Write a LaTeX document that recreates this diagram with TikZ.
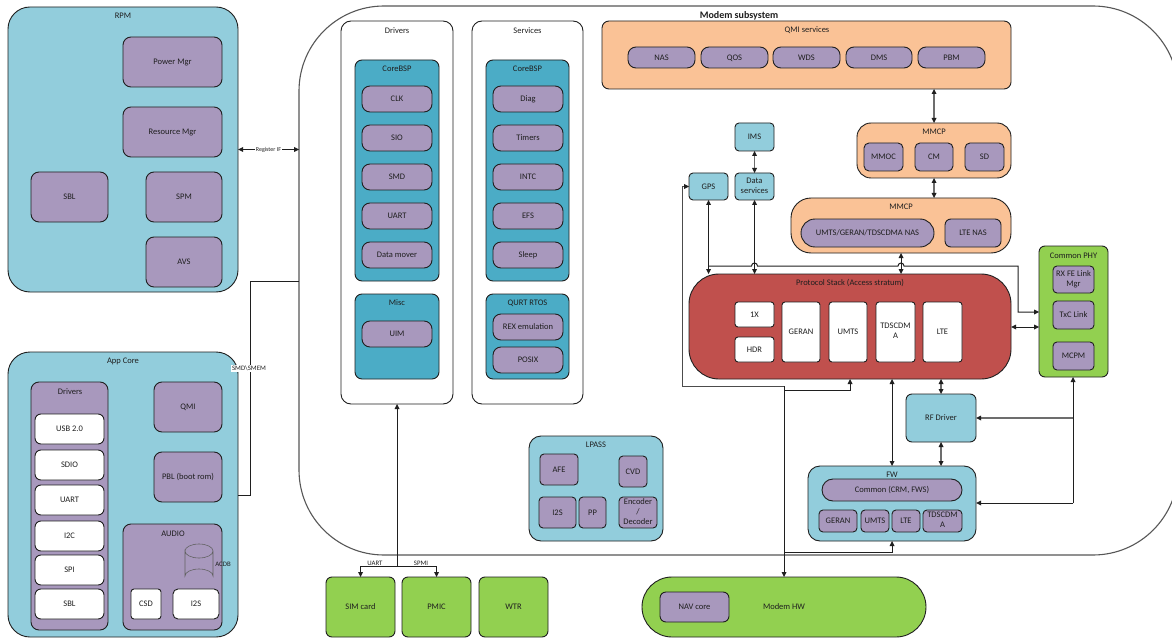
\documentclass[tikz,border=0pt]{standalone}
\usepackage{fontspec}
\setmainfont{Carlito}
\usetikzlibrary{arrows.meta}
\definecolor{teal}{HTML}{92CDDC}
\definecolor{dteal}{HTML}{4BACC6}
\definecolor{purp}{HTML}{A898BD}
\definecolor{orng}{HTML}{FAC296}
\definecolor{redb}{HTML}{C0504D}
\definecolor{gren}{HTML}{92D050}
\definecolor{ink}{HTML}{1F1F1F}
\newcommand\capstrut{\rule[-2.1pt]{0pt}{9.6pt}}
\tikzset{
  base/.style={draw=ink,line width=0.9pt,inner sep=0pt,outer sep=0pt,align=center,text=ink,font=\fontsize{8.5}{10}\selectfont,rounded corners=#1,execute at begin node=\capstrut,execute at end node=\capstrut},
  base/.default=8pt,
  ltbox/.style={base=#1,fill=teal}, ltbox/.default=8pt,
  dtbox/.style={base=#1,fill=dteal}, dtbox/.default=8pt,
  pubox/.style={base=#1,fill=purp}, pubox/.default=8pt,
  orbox/.style={base=#1,fill=orng}, orbox/.default=8pt,
  rdbox/.style={base=#1,fill=redb}, rdbox/.default=8pt,
  grbox/.style={base=#1,fill=gren}, grbox/.default=8pt,
  whbox/.style={base=#1,fill=white}, whbox/.default=8pt,
  ttl/.style={inner sep=0pt,outer sep=0pt,text=ink,font=\fontsize{8.5}{10}\selectfont,execute at begin node=\capstrut},
  small/.style={inner sep=0.6pt,outer sep=0pt,text=ink,fill=white,font=\fontsize{6.8}{8}\selectfont},
  con/.style={draw=ink,line width=1pt},
  heavy/.style={line width=1.25pt},
  grayline/.style={draw=ink!65,line width=1.3pt},
  both/.style={con,{Triangle[length=5pt,width=5pt,color=ink,line width=0pt]}-{Triangle[length=5pt,width=5pt,color=ink,line width=0pt]}},
  one/.style={con,-{Triangle[length=5pt,width=5pt,color=ink,line width=0pt]}}
}
\newcommand\mybox[7][]{\node[#2,minimum width={(#6-#4)*1pt},minimum height={(#7-#5)*1pt},#1] (#3) at ({(#4+#6)/2},{(#5+#7)/2})}
\newcommand\mytitle[4][]{\node[ttl,#1] (#2) at (#3,#4)}
\begin{document}
\begin{tikzpicture}[x=1pt,y=-1pt]
\useasboundingbox (0,0) rectangle (1172,639);
\clip (0,0) rectangle (1172,639);
\fill[white] (0,0) rectangle (1172,639);

% Modem subsystem
\mybox[draw=ink!75,line width=1.1pt]{whbox=85pt}{modem}{299}{6}{1178}{555}{};
\mytitle[font=\fontsize{10}{12}\selectfont\bfseries]{modemT}{739}{15.5}{Modem subsystem};

% RPM
\mybox{ltbox=22pt}{rpm}{8}{7}{238}{292}{};
\mytitle{rpmT}{123}{16}{RPM};
\mybox{pubox}{power}{123}{37}{222}{87}{Power Mgr};
\mybox{pubox}{resource}{123}{107}{222}{157}{Resource Mgr};
\mybox{pubox}{rsbl}{31}{172}{108}{222}{SBL};
\mybox{pubox}{spm}{146}{172}{222}{222}{SPM};
\mybox{pubox}{avs}{146}{237}{222}{287}{AVS};

% App core
\mybox{ltbox=22pt}{app}{8}{352}{238}{637}{};
\mytitle{appT}{123}{360.5}{App Core};
\mybox{pubox}{adrv}{31}{382}{108}{630}{};
\mytitle{adrvT}{70}{391.5}{Drivers};
\mybox{whbox=6pt}{usb}{35}{414}{104}{444}{USB 2.0};
\mybox{whbox=6pt}{sdio}{35}{450}{104}{480}{SDIO};
\mybox{whbox=6pt}{auart}{35}{485}{104}{515}{UART};
\mybox{whbox=6pt}{itwoc}{35}{521}{104}{551}{I2C};
\mybox{whbox=6pt}{spi}{35}{555}{104}{585}{SPI};
\mybox{whbox=6pt}{asbl}{35}{589}{104}{619}{SBL};
\mybox{pubox}{qmi}{154}{382}{222}{432}{QMI};
\mybox{pubox}{pbl}{154}{452}{222}{502}{PBL (boot rom)};
\mybox{pubox}{audio}{123}{524}{222}{630}{};
\mytitle{audioT}{173}{533.5}{AUDIO};
\draw[draw=ink!70,line width=0.6pt] (185,551) arc[start angle=180,end angle=540,x radius=14,y radius=7] -- (185,576) arc[start angle=180,end angle=0,x radius=14,y radius=-7] -- (213,551);
\mytitle[font=\fontsize{6.8}{8}\selectfont]{acdb}{223}{564}{ACDB};
\mybox{whbox=3pt}{csd}{131}{589}{161}{619}{CSD};
\mybox{whbox=5pt}{aitwos}{173}{589}{219}{619}{I2S};

% Drivers column
\mybox{whbox=10pt}{drivers}{341}{21}{453}{404}{};
\mytitle{driversT}{397}{30.5}{Drivers};
\mybox{dtbox=7pt}{core1}{355}{60}{439}{281}{};
\mytitle{core1T}{397}{68.5}{CoreBSP};
\mybox{pubox}{clk}{362}{86}{432}{112}{CLK};
\mybox{pubox}{sio}{362}{125}{432}{151}{SIO};
\mybox{pubox}{smd}{362}{164}{432}{190}{SMD};
\mybox{pubox}{duart}{362}{203}{432}{229}{UART};
\mybox{pubox}{dmover}{362}{242}{432}{268}{Data mover};
\mybox{dtbox=7pt}{misc}{355}{294}{439}{379}{};
\mytitle{miscT}{397}{303}{Misc};
\mybox{pubox}{uim}{362}{321}{432}{347}{UIM};

% Services column
\mybox{whbox=10pt}{services}{472}{21}{583}{404}{};
\mytitle{servicesT}{527.5}{30.5}{Services};
\mybox{dtbox=7pt}{core2}{486}{60}{569}{281}{};
\mytitle{core2T}{527.5}{68.5}{CoreBSP};
\mybox{pubox}{diag}{493}{86}{563}{112}{Diag};
\mybox{pubox}{timers}{493}{125}{563}{151}{Timers};
\mybox{pubox}{intc}{493}{164}{563}{190}{INTC};
\mybox{pubox}{efs}{493}{203}{563}{229}{EFS};
\mybox{pubox}{sleep}{493}{242}{563}{268}{Sleep};
\mybox{dtbox=7pt}{qurt}{486}{294}{569}{379}{};
\mytitle{qurtT}{527.5}{303}{QURT RTOS};
\mybox{pubox}{rex}{493}{314}{563}{340}{REX emulation};
\mybox{pubox}{posix}{493}{347}{563}{373}{POSIX};

% QMI services
\mybox{orbox=7pt}{qmis}{602}{21}{1011}{89}{};
\mytitle{qmisT}{807}{30}{QMI services};
\mybox{pubox}{nas}{628}{47}{695}{68}{NAS};
\mybox{pubox}{qos}{701}{47}{768}{68}{QOS};
\mybox{pubox}{wds}{773}{47}{840}{68}{WDS};
\mybox{pubox}{dms}{846}{47}{912}{68}{DMS};
\mybox{pubox}{pbm}{918}{47}{985}{68}{PBM};

% MMCP upper
\mybox{orbox=14pt}{mmcpa}{857}{123}{1011}{178}{};
\mytitle{mmcpaT}{934}{132}{MMCP};
\mybox{pubox=5pt}{mmoc}{864}{143}{903}{171}{MMOC};
\mybox{pubox=5pt}{cm}{915}{143}{953}{171}{CM};
\mybox{pubox=5pt}{sd}{965}{143}{1004}{171}{SD};

% MMCP lower
\mybox{orbox=20pt}{mmcpb}{791}{198}{1011}{253}{};
\mytitle{mmcpbT}{901}{207}{MMCP};
\mybox{pubox=14pt}{umtsnas}{801}{219}{934}{247}{UMTS/GERAN/TDSCDMA NAS};
\mybox{pubox=6pt}{ltenas}{945}{219}{1001}{247}{LTE NAS};

% IMS, data, GPS
\mybox{ltbox=4pt}{ims}{735}{123}{774}{151}{IMS};
\mybox{ltbox=4pt}{data}{735}{173}{774}{200}{Data\\services};
\mybox{ltbox=4pt}{gps}{689}{173}{728}{200}{GPS};

% Protocol stack
\mybox{rdbox=30pt}{proto}{689}{274}{1011}{379}{};
\mytitle{protoT}{850}{282.5}{Protocol Stack (Access stratum)};
\mybox{whbox=3pt}{onex}{735}{302}{774}{327}{1X};
\mybox{whbox=3pt}{hdr}{735}{337}{774}{362}{HDR};
\mybox{whbox=3pt}{geran}{782}{302}{820}{362}{GERAN};
\mybox{whbox=3pt}{umts}{829}{302}{867}{362}{UMTS};
\mybox{whbox=3pt}{tds}{876}{302}{915}{362}{TDSCDM\\A};
\mybox{whbox=3pt}{lte}{923}{302}{962}{362}{LTE};

% Common PHY
\mybox{grbox=6pt}{phy}{1039}{246}{1108}{377}{};
\mytitle{phyT}{1073.5}{255.5}{Common PHY};
\mybox{pubox=4pt}{rxfe}{1053}{266}{1094}{293}{RX FE Link\\Mgr};
\mybox{pubox=4pt}{txc}{1053}{301}{1094}{329}{TxC Link};
\mybox{pubox=4pt}{mcpm}{1053}{342}{1094}{370}{MCPM};

% RF driver
\mybox{ltbox=6pt}{rf}{906}{394}{976}{442}{RF Driver};

% FW
\mybox{ltbox=12pt}{fw}{808}{466}{976}{541}{};
\mytitle{fwT}{892}{474.5}{FW};
\mybox{pubox=11pt}{common}{822}{479}{962}{501}{Common (CRM, FWS)};
\mybox{pubox=4pt}{fgeran}{819}{510}{857}{532}{GERAN};
\mybox{pubox=4pt}{fumts}{861}{510}{889}{532}{UMTS};
\mybox{pubox=4pt}{flte}{892}{510}{920}{532}{LTE};
\mybox{pubox=4pt}{ftds}{923}{510}{962}{532}{TDSCDM\\A};

% LPASS
\mybox{ltbox=12pt}{lpass}{529}{436}{663}{541}{};
\mytitle{lpassT}{596}{445}{LPASS};
\mybox{pubox=4pt}{afe}{540}{454}{578}{485}{AFE};
\mybox{pubox=4pt}{cvd}{619}{456}{647}{487}{CVD};
\mybox{pubox=4pt}{litwos}{539}{497}{576}{528}{I2S};
\mybox{pubox=4pt}{pp}{579}{497}{606}{528}{PP};
\mybox{pubox=4pt}{enc}{619}{497}{657}{528}{Encoder\\/\\Decoder};

% Bottom row
\mybox{grbox=6pt}{sim}{326}{577}{395}{637}{SIM card};
\mybox{grbox=6pt}{pmic}{402}{577}{471}{637}{PMIC};
\mybox{grbox=6pt}{wtr}{479}{577}{548}{637}{WTR};
\mybox{grbox=30pt}{mhw}{642}{577}{926}{637}{Modem HW};
\mybox{pubox=6pt}{nav}{660}{592}{729}{622}{NAV core};

% Reference coordinates for connector columns and rows
\coordinate (busY) at (0,266);
\coordinate (busX) at (1018,0);
\coordinate (hopA) at (754.5,266);
\coordinate (hopB) at (901,266);
\coordinate (leftX) at (682,0);
\coordinate (hwX) at (784,0);
\coordinate (phyX) at (1073,0);
\coordinate (stackX) at (850,0);
\coordinate (fwX) at (892,0);
\coordinate (rfX) at (941,0);
\coordinate (lowA) at (784,386);
\coordinate (lowB) at (784,390);
\coordinate (lowC) at (784,552);
\coordinate (trunk) at (397,566);
\coordinate (regY) at (0,149.5);
\coordinate (smdX) at (250,0);
\coordinate (appY) at (0,495);
\coordinate (modY) at (0,281);
\coordinate (phyLow) at (1073,503);
\coordinate (phyRf) at (1073,418);
\coordinate (phyTx) at (0,312);
\coordinate (phySide) at (0,327);

% Connectors
\draw[both,grayline] (qmis.south -| mmcpa.north) -- (mmcpa.north);
\draw[both,grayline] (mmcpa.south) -- (mmcpa.south |- mmcpb.north);
\draw[both,grayline] (ims.south) -- (data.north);
\draw[both,heavy] (gps.south) -- (proto.north -| gps.south);
\draw[both] (data.south) -- (proto.north -| data.south);
\draw[both] (mmcpb.south -| mmcpb.north) -- (proto.north -| mmcpb.north);
\draw[one] (busY -| gps.south) -- ([xshift=-3pt]hopA) arc[start angle=180,end angle=360,radius=3] -- ([xshift=-3pt]hopB) arc[start angle=180,end angle=360,radius=3] -- (busY -| busX) -- (phyTx -| busX) -- (phyTx -| phy.west);
\draw[both] (phySide -| proto.east) -- (phySide -| phy.west);
\draw[one,draw=ink!80] (leftX |- lowA) -- (leftX |- gps.west) -- (gps.west);
\draw[con,draw=ink!80] (lowA) -- (leftX |- lowA);
\draw[one] (lowA) -- (hwX |- mhw.north);
\draw[one] (lowB) -- (lowB -| stackX) -- (proto.south -| stackX);
\draw[one] (lowC) -- (lowC -| fwX) -- (fw.south -| fwX);
\draw[both] (proto.south -| fwX) -- (fw.north -| fwX);
\draw[both,grayline] (proto.south -| rfX) -- (rf.north -| rfX);
\draw[both,grayline] (rf.south -| rfX) -- (fw.north -| rfX);
\draw[one] (phyLow) -- (phy.south -| phyX);
\draw[one] (phyLow) -- (phyLow -| fw.east);
\draw[one,grayline] (phyRf) -- (phyRf -| rf.east);
\draw[one] (trunk) -- (drivers.south -| trunk);
\draw[one] (trunk) -- (trunk -| sim.north) -- (sim.north);
\draw[one] (trunk) -- (trunk -| pmic.north) -- (pmic.north);
\node[small] (uartL) at (375,563) {UART};
\node[small] (spmiL) at (421,563) {SPMI};
\draw[both] (regY -| rpm.east) -- (regY -| modem.west) node[small,midway,font=\fontsize{6}{7}\selectfont] (regL) {Register IF};
\draw[con] (appY -| app.east) -- (appY -| smdX) -- (modY -| smdX) -- (modY -| modem.west);
\node[small] (smdL) at (249,368.5) {SMD\textbackslash SMEM};
\end{tikzpicture}
\end{document}
